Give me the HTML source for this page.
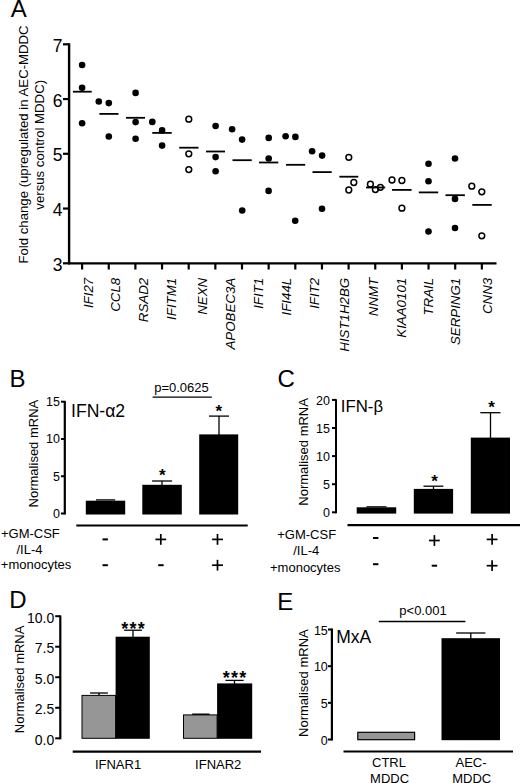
<!DOCTYPE html>
<html><head><meta charset="utf-8"><title>Figure</title>
<style>
html,body{margin:0;padding:0;background:#fff;}
body{width:520px;height:783px;overflow:hidden;}
svg{display:block;}
text{font-family:"Liberation Sans", sans-serif;fill:#000;}
</style></head>
<body>
<svg width="520" height="783" viewBox="0 0 520 783">
<rect x="0" y="0" width="520" height="783" fill="#fff"/>
<text x="10.8" y="17.2" font-size="24" text-anchor="start">A</text>
<line x1="69.1" y1="43.3" x2="69.1" y2="264.3" stroke="#000" stroke-width="2.4"/>
<line x1="67.9" y1="263.4" x2="496.5" y2="263.4" stroke="#000" stroke-width="2.4"/>
<line x1="63" y1="44.3" x2="69.1" y2="44.3" stroke="#000" stroke-width="2.2"/>
<text x="62.4" y="51.8" font-size="17.5" text-anchor="end">7</text>
<line x1="63" y1="99.05" x2="69.1" y2="99.05" stroke="#000" stroke-width="2.2"/>
<text x="62.4" y="106.55" font-size="17.5" text-anchor="end">6</text>
<line x1="63" y1="153.8" x2="69.1" y2="153.8" stroke="#000" stroke-width="2.2"/>
<text x="62.4" y="161.3" font-size="17.5" text-anchor="end">5</text>
<line x1="63" y1="208.55" x2="69.1" y2="208.55" stroke="#000" stroke-width="2.2"/>
<text x="62.4" y="216.05" font-size="17.5" text-anchor="end">4</text>
<line x1="63" y1="263.3" x2="69.1" y2="263.3" stroke="#000" stroke-width="2.2"/>
<text x="62.4" y="270.8" font-size="17.5" text-anchor="end">3</text>
<line x1="82.1" y1="263" x2="82.1" y2="269.5" stroke="#000" stroke-width="2.2"/>
<line x1="108.75" y1="263" x2="108.75" y2="269.5" stroke="#000" stroke-width="2.2"/>
<line x1="135.4" y1="263" x2="135.4" y2="269.5" stroke="#000" stroke-width="2.2"/>
<line x1="162.05" y1="263" x2="162.05" y2="269.5" stroke="#000" stroke-width="2.2"/>
<line x1="188.7" y1="263" x2="188.7" y2="269.5" stroke="#000" stroke-width="2.2"/>
<line x1="215.35" y1="263" x2="215.35" y2="269.5" stroke="#000" stroke-width="2.2"/>
<line x1="242" y1="263" x2="242" y2="269.5" stroke="#000" stroke-width="2.2"/>
<line x1="268.65" y1="263" x2="268.65" y2="269.5" stroke="#000" stroke-width="2.2"/>
<line x1="295.3" y1="263" x2="295.3" y2="269.5" stroke="#000" stroke-width="2.2"/>
<line x1="321.95" y1="263" x2="321.95" y2="269.5" stroke="#000" stroke-width="2.2"/>
<line x1="348.6" y1="263" x2="348.6" y2="269.5" stroke="#000" stroke-width="2.2"/>
<line x1="375.25" y1="263" x2="375.25" y2="269.5" stroke="#000" stroke-width="2.2"/>
<line x1="401.9" y1="263" x2="401.9" y2="269.5" stroke="#000" stroke-width="2.2"/>
<line x1="428.55" y1="263" x2="428.55" y2="269.5" stroke="#000" stroke-width="2.2"/>
<line x1="455.2" y1="263" x2="455.2" y2="269.5" stroke="#000" stroke-width="2.2"/>
<line x1="481.85" y1="263" x2="481.85" y2="269.5" stroke="#000" stroke-width="2.2"/>
<text x="92.9" y="277.8" font-size="13.3" text-anchor="end" font-style="italic" transform="rotate(-90 92.9 277.8)">IFI27</text>
<text x="119.8" y="277.8" font-size="13.3" text-anchor="end" font-style="italic" transform="rotate(-90 119.8 277.8)">CCL8</text>
<text x="148.2" y="277.8" font-size="13.3" text-anchor="end" font-style="italic" transform="rotate(-90 148.2 277.8)">RSAD2</text>
<text x="176.2" y="277.8" font-size="13.3" text-anchor="end" font-style="italic" transform="rotate(-90 176.2 277.8)">IFITM1</text>
<text x="206.7" y="277.8" font-size="13.3" text-anchor="end" font-style="italic" transform="rotate(-90 206.7 277.8)">NEXN</text>
<text x="234.7" y="277.8" font-size="13.3" text-anchor="end" font-style="italic" transform="rotate(-90 234.7 277.8)">APOBEC3A</text>
<text x="262.6" y="277.8" font-size="13.3" text-anchor="end" font-style="italic" transform="rotate(-90 262.6 277.8)">IFIT1</text>
<text x="290.6" y="277.8" font-size="13.3" text-anchor="end" font-style="italic" transform="rotate(-90 290.6 277.8)">IFI44L</text>
<text x="319.4" y="277.8" font-size="13.3" text-anchor="end" font-style="italic" transform="rotate(-90 319.4 277.8)">IFIT2</text>
<text x="349.0" y="277.8" font-size="13.3" text-anchor="end" font-style="italic" transform="rotate(-90 349.0 277.8)">HIST1H2BG</text>
<text x="378.3" y="277.8" font-size="13.3" text-anchor="end" font-style="italic" transform="rotate(-90 378.3 277.8)">NNMT</text>
<text x="405.6" y="277.8" font-size="13.3" text-anchor="end" font-style="italic" transform="rotate(-90 405.6 277.8)">KIAA0101</text>
<text x="433.2" y="277.8" font-size="13.3" text-anchor="end" font-style="italic" transform="rotate(-90 433.2 277.8)">TRAIL</text>
<text x="460.3" y="277.8" font-size="13.3" text-anchor="end" font-style="italic" transform="rotate(-90 460.3 277.8)">SERPING1</text>
<text x="491.6" y="277.8" font-size="13.3" text-anchor="end" font-style="italic" transform="rotate(-90 491.6 277.8)">CNN3</text>
<text x="28.4" y="144.5" font-size="13.2" text-anchor="middle" transform="rotate(-90 28.4 144.5)">Fold change (upregulated in AEC-MDDC</text>
<text x="44.2" y="144.8" font-size="13.2" text-anchor="middle" transform="rotate(-90 44.2 144.8)">versus control MDDC)</text>
<line x1="72.9" y1="91.7" x2="91.7" y2="91.7" stroke="#000" stroke-width="1.8"/>
<circle cx="82.1" cy="65" r="3.3" fill="#000"/>
<circle cx="82.1" cy="87.7" r="3.3" fill="#000"/>
<circle cx="82.1" cy="123.2" r="3.3" fill="#000"/>
<line x1="99.4" y1="113.9" x2="118.5" y2="113.9" stroke="#000" stroke-width="1.8"/>
<circle cx="98.8" cy="101.5" r="3.3" fill="#000"/>
<circle cx="108.8" cy="103.1" r="3.3" fill="#000"/>
<circle cx="108.8" cy="136.5" r="3.3" fill="#000"/>
<line x1="126" y1="117.8" x2="145" y2="117.8" stroke="#000" stroke-width="1.8"/>
<circle cx="135.6" cy="92.9" r="3.3" fill="#000"/>
<circle cx="135.6" cy="122.1" r="3.3" fill="#000"/>
<circle cx="135.6" cy="138.8" r="3.3" fill="#000"/>
<line x1="152.3" y1="132.9" x2="171.7" y2="132.9" stroke="#000" stroke-width="1.8"/>
<circle cx="152.3" cy="121.9" r="3.3" fill="#000"/>
<circle cx="162.1" cy="130.4" r="3.3" fill="#000"/>
<circle cx="162.1" cy="145.6" r="3.3" fill="#000"/>
<line x1="179.2" y1="147.7" x2="198.5" y2="147.7" stroke="#000" stroke-width="1.8"/>
<circle cx="188.8" cy="119.2" r="2.9" fill="none" stroke="#000" stroke-width="1.5"/>
<circle cx="188.8" cy="153.8" r="2.9" fill="none" stroke="#000" stroke-width="1.5"/>
<circle cx="188.8" cy="169.6" r="2.9" fill="none" stroke="#000" stroke-width="1.5"/>
<line x1="206" y1="151.5" x2="225" y2="151.5" stroke="#000" stroke-width="1.8"/>
<circle cx="215.6" cy="126" r="3.3" fill="#000"/>
<circle cx="215.6" cy="157.1" r="3.3" fill="#000"/>
<circle cx="215.6" cy="171.2" r="3.3" fill="#000"/>
<line x1="232.5" y1="160.2" x2="251.7" y2="160.2" stroke="#000" stroke-width="1.8"/>
<circle cx="232.1" cy="129.2" r="3.3" fill="#000"/>
<circle cx="242.1" cy="139.6" r="3.3" fill="#000"/>
<circle cx="242.2" cy="210.5" r="3.3" fill="#000"/>
<line x1="259" y1="162.5" x2="278.3" y2="162.5" stroke="#000" stroke-width="1.8"/>
<circle cx="268.7" cy="137.9" r="3.3" fill="#000"/>
<circle cx="268.7" cy="158.5" r="3.3" fill="#000"/>
<circle cx="268.6" cy="190.9" r="3.3" fill="#000"/>
<line x1="286" y1="164.8" x2="305.2" y2="164.8" stroke="#000" stroke-width="1.8"/>
<circle cx="285.6" cy="136.3" r="3.3" fill="#000"/>
<circle cx="295.4" cy="136.9" r="3.3" fill="#000"/>
<circle cx="295.2" cy="220.8" r="3.3" fill="#000"/>
<line x1="312.5" y1="172.1" x2="331.7" y2="172.1" stroke="#000" stroke-width="1.8"/>
<circle cx="312.1" cy="151.2" r="3.3" fill="#000"/>
<circle cx="322.1" cy="155.6" r="3.3" fill="#000"/>
<circle cx="322" cy="208.8" r="3.3" fill="#000"/>
<line x1="339.4" y1="176.7" x2="358.3" y2="176.7" stroke="#000" stroke-width="1.8"/>
<circle cx="348.8" cy="157.3" r="2.9" fill="none" stroke="#000" stroke-width="1.5"/>
<circle cx="353.8" cy="182.5" r="2.9" fill="none" stroke="#000" stroke-width="1.5"/>
<circle cx="348.8" cy="190" r="2.9" fill="none" stroke="#000" stroke-width="1.5"/>
<line x1="366" y1="187.5" x2="385.2" y2="187.5" stroke="#000" stroke-width="1.8"/>
<circle cx="370.4" cy="184.2" r="2.9" fill="none" stroke="#000" stroke-width="1.5"/>
<circle cx="375.4" cy="189.6" r="2.9" fill="none" stroke="#000" stroke-width="1.5"/>
<circle cx="380.4" cy="187.3" r="2.9" fill="none" stroke="#000" stroke-width="1.5"/>
<line x1="392" y1="189.9" x2="411.6" y2="189.9" stroke="#000" stroke-width="1.8"/>
<circle cx="392" cy="180" r="2.9" fill="none" stroke="#000" stroke-width="1.5"/>
<circle cx="401.9" cy="180.5" r="2.9" fill="none" stroke="#000" stroke-width="1.5"/>
<circle cx="401.9" cy="208.2" r="2.9" fill="none" stroke="#000" stroke-width="1.5"/>
<line x1="418.8" y1="192.4" x2="438.2" y2="192.4" stroke="#000" stroke-width="1.8"/>
<circle cx="428.5" cy="163.8" r="3.3" fill="#000"/>
<circle cx="428.5" cy="181.2" r="3.3" fill="#000"/>
<circle cx="428.5" cy="231.5" r="3.3" fill="#000"/>
<line x1="445.5" y1="195.2" x2="464.9" y2="195.2" stroke="#000" stroke-width="1.8"/>
<circle cx="455" cy="158.5" r="3.3" fill="#000"/>
<circle cx="455" cy="198.9" r="3.3" fill="#000"/>
<circle cx="455" cy="228" r="3.3" fill="#000"/>
<line x1="472.3" y1="204.9" x2="491.7" y2="204.9" stroke="#000" stroke-width="1.8"/>
<circle cx="471.8" cy="186.2" r="2.9" fill="none" stroke="#000" stroke-width="1.5"/>
<circle cx="481.8" cy="191.8" r="2.9" fill="none" stroke="#000" stroke-width="1.5"/>
<circle cx="481.8" cy="235.8" r="2.9" fill="none" stroke="#000" stroke-width="1.5"/>
<text x="9.4" y="386.6" font-size="24" text-anchor="start">B</text>
<line x1="64.8" y1="400.9" x2="64.8" y2="514.5" stroke="#000" stroke-width="2.2"/>
<line x1="61" y1="513.5" x2="64.8" y2="513.5" stroke="#000" stroke-width="2"/>
<text x="60.0" y="517.8" font-size="12.5" text-anchor="end">0</text>
<line x1="61" y1="476.24" x2="64.8" y2="476.24" stroke="#000" stroke-width="2"/>
<text x="60.0" y="480.54" font-size="12.5" text-anchor="end">5</text>
<line x1="61" y1="438.97" x2="64.8" y2="438.97" stroke="#000" stroke-width="2"/>
<text x="60.0" y="443.27" font-size="12.5" text-anchor="end">10</text>
<line x1="61" y1="401.7" x2="64.8" y2="401.7" stroke="#000" stroke-width="2"/>
<text x="60.0" y="406" font-size="12.5" text-anchor="end">15</text>
<text x="38.4" y="453.6" font-size="13" text-anchor="middle" transform="rotate(-90 38.4 453.6)">Normalised mRNA</text>
<text x="71.0" y="416.6" font-size="17.6" text-anchor="start">IFN-&#945;2</text>
<rect x="85.8" y="500.7" width="39.40" height="13.80" fill="#000"/>
<rect x="142.3" y="484.8" width="39.50" height="29.70" fill="#000"/>
<rect x="199.2" y="434.4" width="39.00" height="80.10" fill="#000"/>
<line x1="96" y1="499.9" x2="115.2" y2="499.9" stroke="#000" stroke-width="1.3"/>
<line x1="162" y1="481" x2="162" y2="485" stroke="#000" stroke-width="1.3"/>
<line x1="152.1" y1="481" x2="172.1" y2="481" stroke="#000" stroke-width="1.3"/>
<line x1="219" y1="416.1" x2="219" y2="435" stroke="#000" stroke-width="1.3"/>
<line x1="209" y1="416.1" x2="229" y2="416.1" stroke="#000" stroke-width="1.3"/>
<text x="162.3" y="480.5" font-size="17" font-weight="bold" text-anchor="middle" letter-spacing="0">*</text>
<text x="218.7" y="416.5" font-size="17" font-weight="bold" text-anchor="middle" letter-spacing="0">*</text>
<line x1="152.6" y1="397.2" x2="211.8" y2="397.2" stroke="#000" stroke-width="1.3"/>
<text x="181.5" y="392.2" font-size="13" text-anchor="middle">p=0.0625</text>
<line x1="76.3" y1="525.5" x2="247.7" y2="525.5" stroke="#000" stroke-width="2.2"/>
<text x="30.4" y="538.4" font-size="13" text-anchor="middle">+GM-CSF</text>
<text x="29.5" y="554.3" font-size="13" text-anchor="middle">/IL-4</text>
<text x="0.8" y="568.5" font-size="13" text-anchor="start">+monocytes</text>
<line x1="102.5" y1="539.4" x2="107.9" y2="539.4" stroke="#000" stroke-width="2.0"/>
<line x1="155.4" y1="539.4" x2="166.2" y2="539.4" stroke="#000" stroke-width="1.7"/>
<line x1="160.8" y1="534.0" x2="160.8" y2="544.8" stroke="#000" stroke-width="1.7"/>
<line x1="212.1" y1="539.4" x2="222.9" y2="539.4" stroke="#000" stroke-width="1.7"/>
<line x1="217.5" y1="534.0" x2="217.5" y2="544.8" stroke="#000" stroke-width="1.7"/>
<line x1="102.5" y1="565.2" x2="107.9" y2="565.2" stroke="#000" stroke-width="2.0"/>
<line x1="158.2" y1="565.2" x2="163.6" y2="565.2" stroke="#000" stroke-width="2.0"/>
<line x1="212.1" y1="565.2" x2="222.9" y2="565.2" stroke="#000" stroke-width="1.7"/>
<line x1="217.5" y1="559.8" x2="217.5" y2="570.6" stroke="#000" stroke-width="1.7"/>
<text x="277.5" y="387.2" font-size="24" text-anchor="start">C</text>
<line x1="336.0" y1="399.3" x2="336.0" y2="513.3" stroke="#000" stroke-width="2.0"/>
<line x1="332" y1="512.3" x2="336.0" y2="512.3" stroke="#000" stroke-width="2"/>
<text x="329.9" y="517.1" font-size="12.5" text-anchor="end">0</text>
<line x1="332" y1="484.2" x2="336.0" y2="484.2" stroke="#000" stroke-width="2"/>
<text x="329.9" y="489" font-size="12.5" text-anchor="end">5</text>
<line x1="332" y1="456.1" x2="336.0" y2="456.1" stroke="#000" stroke-width="2"/>
<text x="329.9" y="460.9" font-size="12.5" text-anchor="end">10</text>
<line x1="332" y1="428" x2="336.0" y2="428" stroke="#000" stroke-width="2"/>
<text x="329.9" y="432.8" font-size="12.5" text-anchor="end">15</text>
<line x1="332" y1="399.9" x2="336.0" y2="399.9" stroke="#000" stroke-width="2"/>
<text x="329.9" y="404.7" font-size="12.5" text-anchor="end">20</text>
<text x="308.0" y="451.9" font-size="13" text-anchor="middle" transform="rotate(-90 308.0 451.9)">Normalised mRNA</text>
<text x="340.8" y="412.0" font-size="16.8" text-anchor="start">IFN-&#946;</text>
<rect x="356.7" y="507.3" width="39.50" height="6.30" fill="#000"/>
<line x1="366.4" y1="506.8" x2="386.5" y2="506.8" stroke="#000" stroke-width="1.2"/>
<rect x="413.8" y="488.9" width="39.30" height="24.70" fill="#000"/>
<rect x="470.8" y="437.6" width="39.20" height="76.00" fill="#000"/>
<line x1="433.5" y1="486.2" x2="433.5" y2="489.5" stroke="#000" stroke-width="1.3"/>
<line x1="423.5" y1="486.2" x2="443.4" y2="486.2" stroke="#000" stroke-width="1.3"/>
<line x1="490.5" y1="412.7" x2="490.5" y2="438" stroke="#000" stroke-width="1.3"/>
<line x1="480.3" y1="412.7" x2="500.5" y2="412.7" stroke="#000" stroke-width="1.3"/>
<text x="434.6" y="486.6" font-size="17" font-weight="bold" text-anchor="middle" letter-spacing="0">*</text>
<text x="491.5" y="412.8" font-size="17" font-weight="bold" text-anchor="middle" letter-spacing="0">*</text>
<line x1="347.5" y1="525.2" x2="520" y2="525.2" stroke="#000" stroke-width="2.2"/>
<text x="306.7" y="538.7" font-size="13" text-anchor="middle">+GM-CSF</text>
<text x="306.2" y="555.0" font-size="13" text-anchor="middle">/IL-4</text>
<text x="270.0" y="571.5" font-size="13" text-anchor="start">+monocytes</text>
<line x1="373.0" y1="538.0" x2="378.4" y2="538.0" stroke="#000" stroke-width="2.0"/>
<line x1="429.0" y1="540.5" x2="439.8" y2="540.5" stroke="#000" stroke-width="1.7"/>
<line x1="434.4" y1="535.1" x2="434.4" y2="545.9" stroke="#000" stroke-width="1.7"/>
<line x1="486.7" y1="539.4" x2="497.5" y2="539.4" stroke="#000" stroke-width="1.7"/>
<line x1="492.1" y1="534.0" x2="492.1" y2="544.8" stroke="#000" stroke-width="1.7"/>
<line x1="373.0" y1="564.2" x2="378.4" y2="564.2" stroke="#000" stroke-width="2.0"/>
<line x1="431.7" y1="565.7" x2="437.1" y2="565.7" stroke="#000" stroke-width="2.0"/>
<line x1="486.7" y1="565.7" x2="497.5" y2="565.7" stroke="#000" stroke-width="1.7"/>
<line x1="492.1" y1="560.3" x2="492.1" y2="571.1" stroke="#000" stroke-width="1.7"/>
<text x="9.3" y="608.3" font-size="24" text-anchor="start">D</text>
<line x1="60.3" y1="615.4" x2="60.3" y2="739.3" stroke="#000" stroke-width="2.2"/>
<line x1="55.2" y1="738.3" x2="60.3" y2="738.3" stroke="#000" stroke-width="2"/>
<text x="54.2" y="744.6" font-size="14" text-anchor="end">0.0</text>
<line x1="55.2" y1="707.77" x2="60.3" y2="707.77" stroke="#000" stroke-width="2"/>
<text x="54.2" y="714.07" font-size="14" text-anchor="end">2.5</text>
<line x1="55.2" y1="677.25" x2="60.3" y2="677.25" stroke="#000" stroke-width="2"/>
<text x="54.2" y="683.55" font-size="14" text-anchor="end">5.0</text>
<line x1="55.2" y1="646.72" x2="60.3" y2="646.72" stroke="#000" stroke-width="2"/>
<text x="54.2" y="653.02" font-size="14" text-anchor="end">7.5</text>
<line x1="55.2" y1="616.2" x2="60.3" y2="616.2" stroke="#000" stroke-width="2"/>
<text x="54.2" y="622.5" font-size="14" text-anchor="end">10.0</text>
<text x="24.5" y="679.4" font-size="13" text-anchor="middle" transform="rotate(-90 24.5 679.4)">Normalised mRNA</text>
<rect x="82.0" y="695.4" width="33.60" height="42.90" fill="#969696" stroke="#000" stroke-width="1.0"/>
<rect x="115.6" y="636.7" width="34.20" height="102.10" fill="#000"/>
<rect x="183.5" y="714.9" width="33.60" height="23.40" fill="#969696" stroke="#000" stroke-width="1.0"/>
<rect x="217.1" y="683.4" width="35.10" height="55.40" fill="#000"/>
<line x1="99" y1="693" x2="99" y2="695.5" stroke="#000" stroke-width="1.3"/>
<line x1="90.1" y1="693" x2="107.9" y2="693" stroke="#000" stroke-width="1.3"/>
<line x1="133" y1="630.2" x2="133" y2="637" stroke="#000" stroke-width="1.3"/>
<line x1="124.1" y1="630.2" x2="141.9" y2="630.2" stroke="#000" stroke-width="1.3"/>
<line x1="192.2" y1="714.2" x2="209.5" y2="714.2" stroke="#000" stroke-width="1.4"/>
<line x1="234.5" y1="680.4" x2="234.5" y2="684" stroke="#000" stroke-width="1.3"/>
<line x1="225.4" y1="680.4" x2="243.6" y2="680.4" stroke="#000" stroke-width="1.3"/>
<text x="133.6" y="634.9" font-size="18" font-weight="bold" text-anchor="middle" letter-spacing="1.2">***</text>
<text x="235.1" y="684.2" font-size="18" font-weight="bold" text-anchor="middle" letter-spacing="1.2">***</text>
<line x1="72.7" y1="751.7" x2="261" y2="751.7" stroke="#000" stroke-width="2.2"/>
<text x="118.0" y="768.6" font-size="13" text-anchor="middle">IFNAR1</text>
<text x="218.2" y="768.6" font-size="13" text-anchor="middle">IFNAR2</text>
<text x="277.3" y="609.7" font-size="24" text-anchor="start">E</text>
<line x1="331.9" y1="628.5" x2="331.9" y2="740.5" stroke="#000" stroke-width="2.2"/>
<line x1="328" y1="739.5" x2="331.9" y2="739.5" stroke="#000" stroke-width="2"/>
<text x="327.8" y="744.6" font-size="12.5" text-anchor="end">0</text>
<line x1="328" y1="702.84" x2="331.9" y2="702.84" stroke="#000" stroke-width="2"/>
<text x="327.8" y="707.94" font-size="12.5" text-anchor="end">5</text>
<line x1="328" y1="666.17" x2="331.9" y2="666.17" stroke="#000" stroke-width="2"/>
<text x="327.8" y="671.27" font-size="12.5" text-anchor="end">10</text>
<line x1="328" y1="629.5" x2="331.9" y2="629.5" stroke="#000" stroke-width="2"/>
<text x="327.8" y="634.61" font-size="12.5" text-anchor="end">15</text>
<text x="308.3" y="683.1" font-size="13" text-anchor="middle" transform="rotate(-90 308.3 683.1)">Normalised mRNA</text>
<text x="336.2" y="642.5" font-size="17.5" text-anchor="start">MxA</text>
<rect x="357.8" y="732.3" width="56.80" height="7.40" fill="#969696" stroke="#000" stroke-width="1.2"/>
<rect x="441.5" y="638.2" width="58.50" height="102.00" fill="#000"/>
<line x1="470.8" y1="633" x2="470.8" y2="639" stroke="#000" stroke-width="1.3"/>
<line x1="456.2" y1="633" x2="485.4" y2="633" stroke="#000" stroke-width="1.3"/>
<line x1="378.8" y1="621.5" x2="465.4" y2="621.5" stroke="#000" stroke-width="1.3"/>
<text x="423.0" y="614.8" font-size="13" text-anchor="middle">p&lt;0.001</text>
<line x1="343.5" y1="751.5" x2="513.0" y2="751.5" stroke="#000" stroke-width="2.2"/>
<text x="389.0" y="766.7" font-size="13" text-anchor="middle">CTRL</text>
<text x="389.6" y="783.0" font-size="13" text-anchor="middle">MDDC</text>
<text x="471.0" y="766.7" font-size="13" text-anchor="middle">AEC-</text>
<text x="471.7" y="783.0" font-size="13" text-anchor="middle">MDDC</text>
</svg>
</body></html>
